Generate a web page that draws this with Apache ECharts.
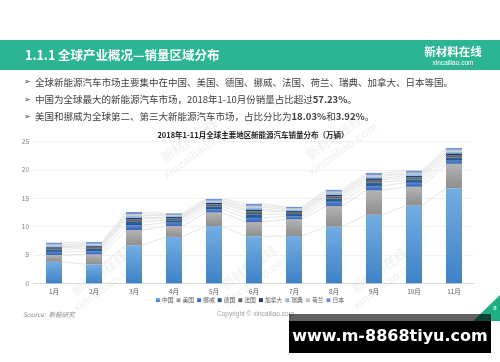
<!DOCTYPE html>
<html><head><meta charset="utf-8">
<script src="https://cdn.jsdelivr.net/npm/echarts@6/dist/echarts.min.js"></script>
<style>html,body{margin:0;padding:0;background:#fff}#c{width:500px;height:362px}</style>
</head><body><div id="c"></div>
<script>
const categories = ['1月','2月','3月','4月','5月','6月','7月','8月','9月','10月','11月'];
const seriesNames = ['中国','美国','挪威','德国','法国','加拿大','瑞典','荷兰','日本'];
const china       = [3.8, 3.35, 6.7, 8.2, 10.1, 8.3, 8.35, 10.0, 12.1, 13.7, 16.8];
const usa         = [1.2, 1.75, 2.7, 1.9, 2.4, 2.5, 2.95, 3.65, 4.3, 3.35, 4.3];
const norway      = [0.55, 0.55, 0.85, 0.6, 0.6, 0.75, 0.5, 0.75, 0.8, 0.7, 0.55];
const germany     = [0.45, 0.45, 0.6, 0.45, 0.5, 0.65, 0.45, 0.55, 0.6, 0.55, 0.55];
const france      = [0.3, 0.35, 0.5, 0.35, 0.35, 0.55, 0.35, 0.45, 0.45, 0.4, 0.45];
const canada      = [0.15, 0.15, 0.25, 0.2, 0.25, 0.3, 0.2, 0.25, 0.3, 0.3, 0.3];
const sweden      = [0.25, 0.25, 0.35, 0.25, 0.25, 0.35, 0.25, 0.3, 0.35, 0.3, 0.35];
const netherlands = [0.17, 0.15, 0.3, 0.15, 0.15, 0.3, 0.2, 0.25, 0.25, 0.25, 0.3];
const japan       = [0.3, 0.3, 0.35, 0.25, 0.3, 0.35, 0.25, 0.3, 0.35, 0.35, 0.3];
const yTicks = [0, 5, 10, 15, 20, 25];

const allData = [china, usa, norway, germany, france, canada, sweden, netherlands, japan];
const colorPairs = [
  ['#74ADE3','#3E82C6'],
  ['#B4B4B4','#8E8E8E'],
  ['#5A86D6','#3A65B8'],
  ['#2F6CA8','#1F5088'],
  ['#7A7A7A','#555555'],
  ['#2B4C8C','#1B3468'],
  ['#A8CBEE','#86B3E0'],
  ['#D2D2D2','#B8B8B8'],
  ['#7C9EDC','#5D83C8']
];
function grad(p){return new echarts.graphic.LinearGradient(0,0,0,1,[{offset:0,color:p[0]},{offset:1,color:p[1]}]);}

const cum = categories.map((c,i)=>{let s=0;return allData.map(a=>{s+=a[i];return s;});});

const CJK = '"Noto Sans CJK SC","Noto Sans",sans-serif';
const chart = echarts.init(document.getElementById('c'));

const barSeries = seriesNames.map((n,k)=>({
  name:n, type:'bar', stack:'t', barWidth:'40%',
  data: allData[k],
  itemStyle:{color:grad(colorPairs[k])},
  emphasis:{disabled:true}
}));

const lineSeries = {
  type:'custom', name:'_lines', silent:true, z:1,
  data: categories.map((c,i)=>[i,0]),
  encode:{x:0,y:1},
  renderItem:function(params, api){
    const i = api.value(0);
    if(i >= categories.length-1) return null;
    const half = api.size([1,0])[0]*0.2;
    const children = cum[i].map((v,k)=>{
      const a = api.coord([i, v]);
      const b = api.coord([i+1, cum[i+1][k]]);
      return {type:'line', shape:{x1:a[0]+half,y1:a[1],x2:b[0]-half,y2:b[1]}, style:{stroke:'#D3D3D3',lineWidth:0.6}};
    });
    return {type:'group', children};
  }
};

function wm(x,y){
  return {type:'group', x:x, y:y, rotation:Math.PI/5, silent:true, z:50, children:[
    {type:'text', x:0, y:0, style:{text:'新材料在线', font:'bold 13px '+CJK, fill:'rgba(160,160,160,0.12)', textAlign:'center'}},
    {type:'text', x:0, y:16, style:{text:'xincailiao.com', font:'bold 12px sans-serif', fill:'rgba(160,160,160,0.12)', textAlign:'center'}}
  ]};
}

chart.setOption({
  animation:false,
  textStyle:{fontFamily:CJK},
  title:{text:'2018年1-11月全球主要地区新能源汽车销量分布（万辆）', left:248, top:126, textAlign:'center',
    textStyle:{fontSize:7.5, fontWeight:'bold', color:'#222', fontFamily:CJK}},
  grid:{left:34, right:26, top:141.7, bottom:78.7},
  legend:{data:seriesNames, bottom:54, left:'center', itemWidth:4, itemHeight:4, itemGap:3,
    icon:'rect', textStyle:{fontSize:5.8, color:'#595959', padding:[0,0,0,-3]}},
  xAxis:{type:'category', data:categories, axisTick:{show:false},
    axisLine:{lineStyle:{color:'#D9D9D9'}},
    axisLabel:{fontSize:6.5, color:'#595959', margin:5}},
  yAxis:{type:'value', min:yTicks[0], max:yTicks[yTicks.length-1], interval:5,
    axisLine:{show:false}, axisTick:{show:false},
    axisLabel:{fontSize:6.5, color:'#7f7f7f', margin:5},
    splitLine:{lineStyle:{color:'#EDEDED', width:0.7}}},
  series:[lineSeries].concat(barSeries),
  graphic:[
    {type:'rect', shape:{x:0,y:40,width:500,height:30}, style:{fill:'#2CB592'}, z:-1},
    {type:'text', x:25, y:55, style:{text:'1.1.1 全球产业概况—销量区域分布', font:'bold 12.5px '+CJK, fill:'#fff', textVerticalAlign:'middle'}},
    {type:'text', x:453, y:52, style:{text:'新材料在线', font:'bold 11.5px '+CJK, fill:'#fff', textAlign:'center', textVerticalAlign:'middle'}},
    {type:'text', x:453, y:63.5, style:{text:'xincailiao.com', font:'6.5px sans-serif', fill:'#fff', textAlign:'center', textVerticalAlign:'middle'}},
    {type:'text', x:24, y:82, style:{text:'➢', font:'8px "DejaVu Sans"', fill:'#404040', textVerticalAlign:'middle'}},
    {type:'text', x:24, y:99.5, style:{text:'➢', font:'8px "DejaVu Sans"', fill:'#404040', textVerticalAlign:'middle'}},
    {type:'text', x:24, y:116.5, style:{text:'➢', font:'8px "DejaVu Sans"', fill:'#404040', textVerticalAlign:'middle'}},
    {type:'text', x:35, y:82, style:{text:'全球新能源汽车市场主要集中在中国、美国、德国、挪威、法国、荷兰、瑞典、加拿大、日本等国。', font:'9.5px '+CJK, fill:'#404040', textVerticalAlign:'middle'}},
    {type:'text', x:35, y:99.5, style:{text:'中国为全球最大的新能源汽车市场，2018年1-10月份销量占比超过{b|57.23%}。', font:'9.5px '+CJK, fill:'#404040', textVerticalAlign:'middle',
      rich:{b:{fontWeight:'bold', fontSize:9.5, fontFamily:CJK, fill:'#404040'}}}},
    {type:'text', x:35, y:116.5, style:{text:'美国和挪威为全球第二、第三大新能源汽车市场，占比分比为{b|18.03%}和{b|3.92%}。', font:'9.5px '+CJK, fill:'#404040', textVerticalAlign:'middle',
      rich:{b:{fontWeight:'bold', fontSize:9.5, fontFamily:CJK, fill:'#404040'}}}},
    {type:'text', x:23, y:315, style:{text:'Source:  新能研究', font:'italic 6.5px '+CJK, fill:'#8c8c8c', textVerticalAlign:'middle'}},
    {type:'text', x:217, y:314, style:{text:'Copyright © xincailiao.com', font:'6.5px sans-serif', fill:'#a0a0a0', textVerticalAlign:'middle'}},
    wm(185,135), wm(95,268), wm(245,262), wm(330,132), wm(375,265),
    {type:'polygon', shape:{points:[[473,321],[500,321],[500,295]]}, style:{fill:'#1FAF84'}, z:60},
    {type:'text', x:495, y:308, style:{text:'8', font:'6px sans-serif', fill:'#fff', textAlign:'center', textVerticalAlign:'middle'}, z:61},
    {type:'rect', shape:{x:289,y:314,width:202,height:7}, style:{fill:'rgba(0,0,0,0.62)'}, z:70},
    {type:'rect', shape:{x:289,y:321,width:202,height:32}, style:{fill:'#000'}, z:70},
    {type:'text', x:390, y:337, style:{text:'www.m-8868tiyu.com', font:'bold 16px "DejaVu Sans"', fill:'#fff', textAlign:'center', textVerticalAlign:'middle'}, z:71}
  ]
});
</script></body></html>
